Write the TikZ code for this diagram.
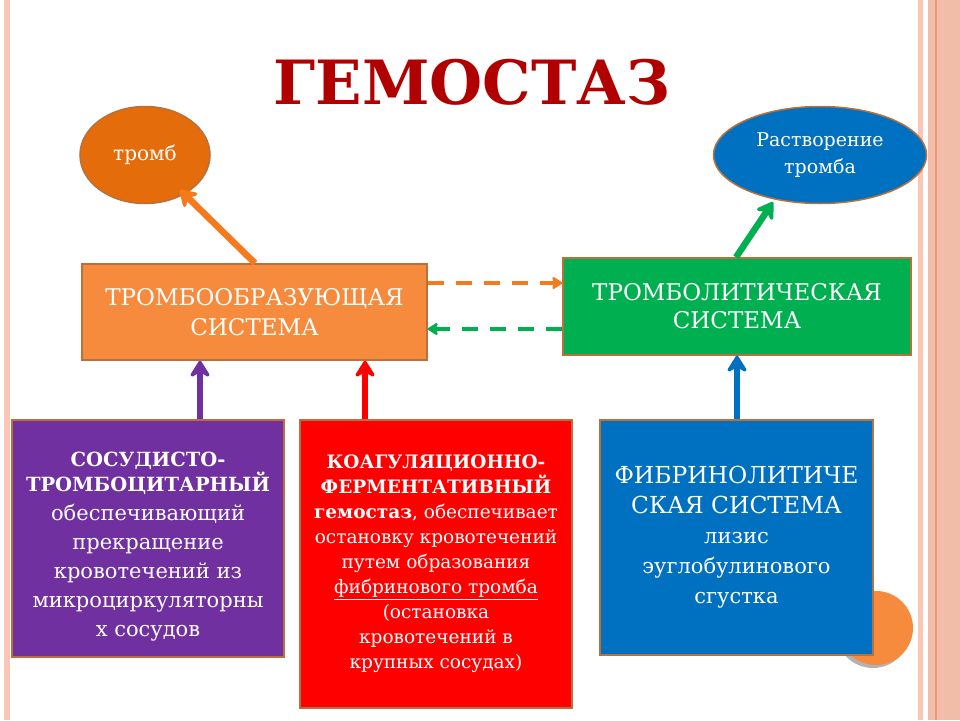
\documentclass[tikz,border=0pt]{standalone}
\usepackage{fontspec}
\setmainfont{DejaVu Serif}
\usetikzlibrary{arrows.meta}
\definecolor{edge}{HTML}{B8703C}
\definecolor{titlered}{HTML}{B00000}
\definecolor{orangedark}{HTML}{E46C0A}
\definecolor{orangelight}{HTML}{F68B3E}
\definecolor{arroworange}{HTML}{F57A1E}
\definecolor{greenbox}{HTML}{00B050}
\definecolor{bluebox}{HTML}{0070C0}
\definecolor{purplebox}{HTML}{7030A0}
\definecolor{redbox}{HTML}{FF0000}
\definecolor{rimpink}{HTML}{FBC6B4}
\definecolor{rimband}{HTML}{F1BDA8}
\definecolor{rimline}{HTML}{EA9878}
\tikzstyle{every node}=[text=white, align=center]
\tikzstyle{sysbox}=[draw=edge, line width=1.5pt, inner sep=0pt]
\tikzstyle{oval}=[ellipse, draw=edge, line width=1.5pt, inner sep=0pt]
\tikzstyle{bigarrow}=[line width=6.5pt, -{Stealth[width=25pt,length=20pt,inset=7pt,round]}]
\tikzstyle{dasharrow}=[line width=4.5pt, dash pattern=on 16pt off 12pt, -{Stealth[width=15pt,length=12pt,inset=3pt,round]}]
\usetikzlibrary{shapes.geometric}
\newcommand\capsline[1]{{\fontsize{19.5}{25}\selectfont\textbf{#1}}}
\newcommand\bigline[1]{{\fontsize{23.4}{30}\selectfont #1}}

\begin{document}
\begin{tikzpicture}[x=1pt, y=-1pt]
\useasboundingbox (0,0) rectangle (960,720);
% Slide rims
    \fill[white] (0,0) rectangle (960,720);
    \fill[rimpink] (4,0) rectangle (10,720);
    \fill[rimpink] (918,0) rectangle (923,720);
    \fill[rimband] (928,0) rectangle (960,720);
    \draw[rimline, line width=1.5pt] (936,0) -- (936,720);
    \draw[rimline!60, line width=0.8pt] (943,0) -- (943,720);
% Corner circle
    \fill[gray!60] (873,631) circle (37);
    \fill[orangelight] (876,628) circle (37);

% Title
    \node[text=titlered, font=\bfseries\fontsize{61}{61}\selectfont] (title) at (472,82) {ГЕМОСТАЗ};

% Ovals
    \node[oval, fill=orangedark, minimum width=130, minimum height=97,
          font=\fontsize{20}{24}\selectfont] (thrombus) at (145,155) {тромб};
    \node[oval, fill=bluebox, minimum width=213, minimum height=97,
          font=\fontsize{19}{27}\selectfont] (lysis) at (820,155) {Растворение\\тромба};

% Systems
    \node[sysbox, fill=orangelight, minimum width=345, minimum height=96,
          font=\fontsize{23}{30}\selectfont] (forming) at (254.5,312) {ТРОМБООБРАЗУЮЩАЯ\\СИСТЕМА};
    \node[sysbox, fill=greenbox, minimum width=348, minimum height=97,
          font=\fontsize{23}{28}\selectfont] (lytic) at (737,306.5) {ТРОМБОЛИТИЧЕСКАЯ\\СИСТЕМА};

% Bottom boxes
    \node[sysbox, fill=purplebox, minimum width=272, minimum height=237] (vascular) at (148,538.5) {};
    \node[font=\fontsize{21}{29}\selectfont] (vasculartext) at (148,547)
          {\capsline{СОСУДИСТО-}\\[-4pt]\capsline{ТРОМБОЦИТАРНЫЙ}\\обеспечивающий\\прекращение\\кровотечений из\\микроциркуляторны\\х сосудов};
    \node[sysbox, fill=redbox, minimum width=272, minimum height=288,
          font=\fontsize{18.5}{25}\selectfont] (coag) at (436,564)
          {\textbf{КОАГУЛЯЦИОННО-}\\\textbf{ФЕРМЕНТАТИВНЫЙ}\\\textbf{гемостаз}, обеспечивает\\остановку кровотечений\\путем образования\\\underline{фибринового тромба}\\(остановка\\кровотечений в\\крупных сосудах)};
    \node[sysbox, fill=bluebox, minimum width=273, minimum height=235,
          font=\fontsize{21}{30}\selectfont] (fibrin) at (736.5,537.5)
          {\bigline{ФИБРИНОЛИТИЧЕ}\\\bigline{СКАЯ СИСТЕМА}\\лизис\\эуглобулинового\\сгустка};

% Arrows
    \draw[bigarrow, arroworange] (forming.north -| 255,0) -- (thrombus.south east -| 180,0) ;
    \draw[bigarrow, greenbox] (lytic.north -| 736,0) -- (773,202);
    \draw[dasharrow, arroworange] (forming.east |- 0,283) -- (lytic.west |- 0,283);
    \draw[dasharrow, greenbox] (lytic.west |- 0,329) -- (forming.east |- 0,329);
    \draw[bigarrow, purplebox] (vascular.north -| 200,0) -- (forming.south -| 200,0);
    \draw[bigarrow, redbox] (coag.north -| 365,0) -- (forming.south -| 365,0);
    \draw[bigarrow, bluebox] (fibrin.north -| 737,0) -- (lytic.south -| 737,0);

\end{tikzpicture}
\end{document}
